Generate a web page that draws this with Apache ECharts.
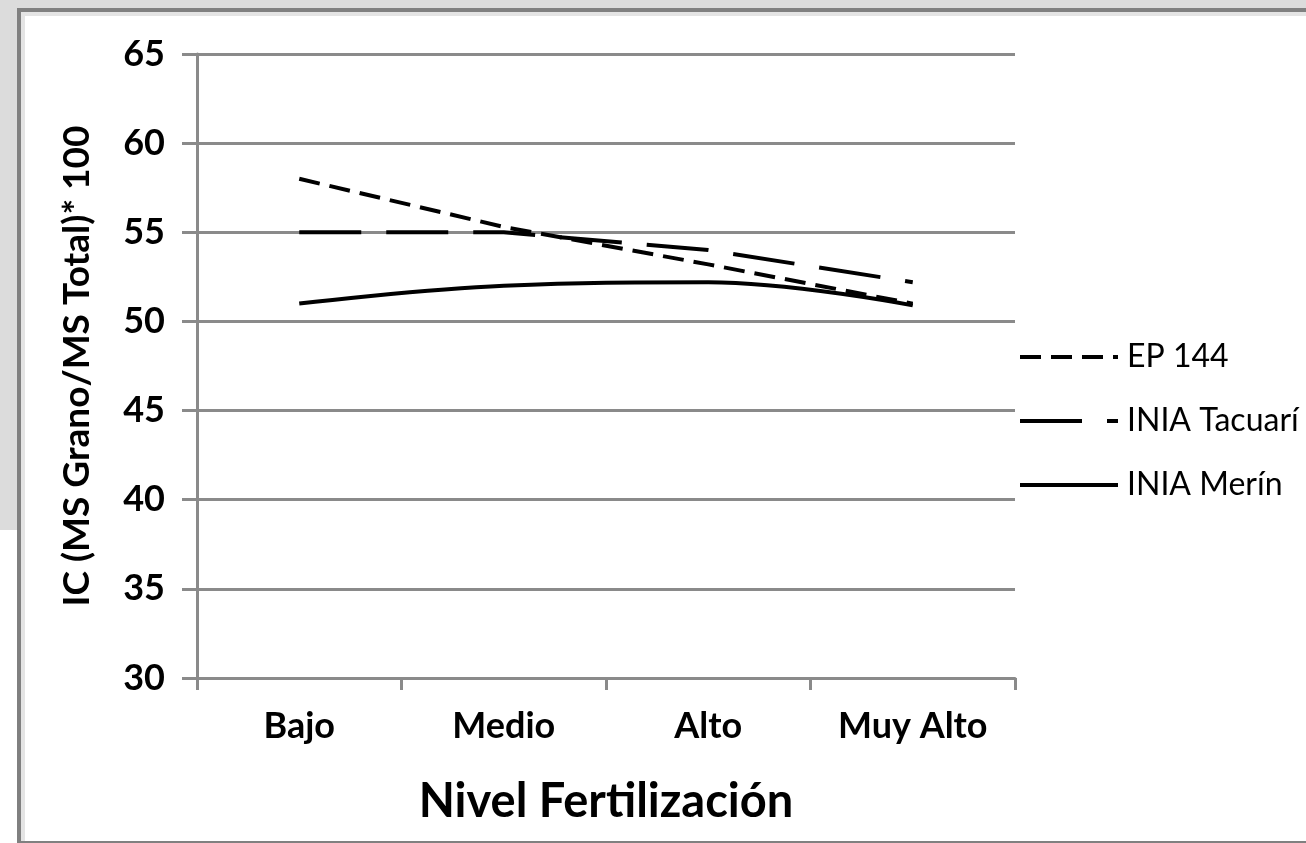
<!DOCTYPE html>
<html>
<head>
<meta charset="utf-8">
<script src="https://cdn.jsdelivr.net/npm/echarts@6/dist/echarts.min.js"></script>
<style>
  html, body { margin: 0; padding: 0; background: #ffffff; }
  #wrap { position: relative; width: 1306px; height: 843px; overflow: hidden; background: #ffffff; }
  .f { position: absolute; }
  #chart { position: absolute; left: 0; top: 0; width: 1306px; height: 843px; }
</style>
</head>
<body>
<div id="wrap">
  <div class="f" style="left:0;top:0;width:1306px;height:8px;background:#dcdcdc;"></div>
  <div class="f" style="left:0;top:0;width:17px;height:530px;background:#dcdcdc;"></div>
  <div class="f" style="left:17px;top:8px;width:1289px;height:4px;background:#808080;"></div>
  <div class="f" style="left:21px;top:12px;width:1285px;height:4px;background:#e4e4e4;"></div>
  <div class="f" style="left:17px;top:8px;width:4px;height:835px;background:#808080;"></div>
  <div class="f" style="left:21px;top:12px;width:4px;height:831px;background:#e4e4e4;"></div>
  <div class="f" style="left:17px;top:841px;width:1289px;height:2px;background:#808080;"></div>
  <div id="chart"></div>
</div>
<script>
const categories = ['Bajo', 'Medio', 'Alto', 'Muy Alto'];
const ep144 = [58, 55.3, 53.2, 51];
const tacuari = [55, 55, 54, 52.2];
const merin = [51, 52, 52.2, 50.9];
const seriesNames = ['EP 144', 'INIA Tacuarí', 'INIA Merín'];
const yTicks = { min: 30, max: 65, interval: 5 };

const FONT = 'Lato, "Open Sans", sans-serif';
const chart = echarts.init(document.getElementById('chart'), null, { renderer: 'canvas' });
const gridColor = '#8a8a8a';

chart.setOption({
  animation: false,
  backgroundColor: 'transparent',
  grid: { left: 197, right: 291, top: 54, bottom: 165, containLabel: false },
  legend: {
    orient: 'vertical',
    left: 1013,
    top: 334,
    itemWidth: 98,
    itemHeight: 14,
    itemGap: 28,
    padding: [5, 5, 5, 5],
    itemStyle: { color: 'rgba(0,0,0,0)', borderWidth: 0, opacity: 0 },
    lineStyle: { width: 4 },
    textStyle: { fontFamily: FONT, fontSize: 32, color: '#000', lineHeight: 36, padding: [0, 0, 0, 4] },
    data: seriesNames
  },
  xAxis: {
    type: 'category',
    data: categories,
    boundaryGap: true,
    axisLine: { show: true, lineStyle: { color: gridColor, width: 3 } },
    axisTick: { show: true, length: 12, lineStyle: { color: gridColor, width: 3 } },
    axisLabel: { fontFamily: FONT, fontSize: 36, fontWeight: 'bold', color: '#000', margin: 30 },
    name: 'Nivel Fertilización',
    nameLocation: 'middle',
    nameGap: 100,
    nameTextStyle: { fontFamily: FONT, fontSize: 47, fontWeight: 'bold', color: '#000' }
  },
  yAxis: {
    type: 'value',
    min: yTicks.min,
    max: yTicks.max,
    interval: yTicks.interval,
    axisLine: { show: true, lineStyle: { color: gridColor, width: 3 } },
    axisTick: { show: true, length: 15, lineStyle: { color: gridColor, width: 3 } },
    axisLabel: { fontFamily: FONT, fontSize: 36, fontWeight: 'bold', color: '#000', margin: 32 },
    splitLine: { show: true, lineStyle: { color: gridColor, width: 3 } },
    name: 'IC (MS Grano/MS Total)* 100',
    nameLocation: 'middle',
    nameGap: 101,
    nameTextStyle: { fontFamily: FONT, fontSize: 37, fontWeight: 'bold', color: '#000' }
  },
  series: [
    {
      name: seriesNames[0], type: 'line', data: ep144, symbol: 'none',
      lineStyle: { color: '#000', width: 4, type: [21, 10] },
      itemStyle: { color: '#000' }
    },
    {
      name: seriesNames[1], type: 'line', data: tacuari, symbol: 'none',
      lineStyle: { color: '#000', width: 4, type: [62, 25] },
      itemStyle: { color: '#000' }
    },
    {
      name: seriesNames[2], type: 'line', data: merin, symbol: 'none', smooth: 0.4,
      lineStyle: { color: '#000', width: 4, type: 'solid' },
      itemStyle: { color: '#000' }
    }
  ]
});
</script>
</body>
</html>
